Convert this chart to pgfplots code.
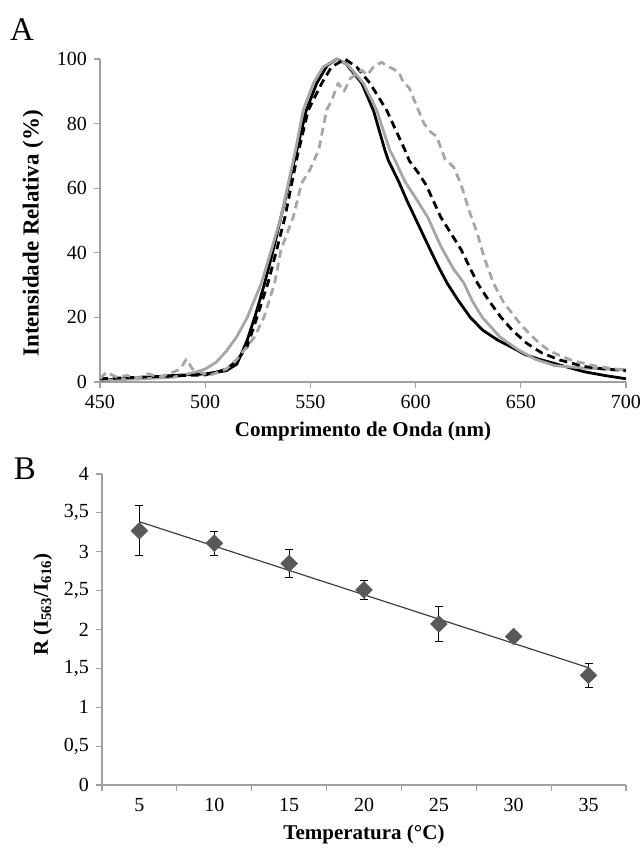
\documentclass[border=0pt]{standalone}
\usepackage{pgfplots}
\pgfplotsset{compat=1.18}
\usepackage{fontspec}
\setmainfont{Liberation Serif}

\definecolor{lgray}{HTML}{A6A6A6}
\definecolor{axgray}{HTML}{A0A0A0}
\definecolor{mgray}{HTML}{595959}

\pgfplotsset{
  myaxis/.style={
    scale only axis,
    axis lines=left,
    axis line style={axgray, line width=0.6pt, -},
    tick style={axgray, line width=0.6pt},
    tick align=outside,
    major tick length=3pt,
    tick label style={font=\fontsize{10}{11}\selectfont},
    label style={font=\fontsize{10.5}{12}\selectfont\bfseries},
    /pgf/number format/assume math mode=true,
    clip=false,
  },
  spec/.style={line width=1.4pt, line join=round},
}

\begin{document}
\begin{tikzpicture}
\useasboundingbox (-50pt,191pt) rectangle (270.5pt,-234pt);

% A: emission spectra
\begin{axis}[myaxis,
    at={(0pt,0pt)}, anchor=south west,
    width=263pt, height=161.5pt,
    xmin=450, xmax=700, ymin=0, ymax=100,
    xtick={450,500,...,700}, ytick={0,20,...,100},
    xlabel={Comprimento de Onda (nm)},
    ylabel={Intensidade Relativa (\%)},
    ylabel style={font=\fontsize{11.5}{13}\selectfont\bfseries,
                  at={(axis description cs:-0.127,0.46)}, anchor=center},
]
% black solid
\addplot[spec, black] coordinates {
 (450,0.5) (460,1.0) (470,1.3) (480,1.8) (490,2.2) (500,2.5) (505,3) (510,3.5)
 (515,5.5) (518,9.9) (520,13) (524,21) (528,30) (532,40) (536,51) (540,62)
 (544,73) (548,84) (553,92.5) (558,98) (562.5,100) (567,98.5) (574.4,92.5)
 (580,84) (585.4,71.8) (587,68.7) (592,62) (596,56) (600,50.5) (604,45)
 (608,39.5) (611,35.5) (615,30.6) (620,25.5) (626,20) (632,16) (639,13)
 (645,11) (652,8.5) (659,7) (670,5) (680,3.2) (690,2) (700,1)
};
% gray solid
\addplot[spec, lgray] coordinates {
 (450,0.5) (470,1) (485,1.5) (495,3) (500,4) (505,6) (510,9.5) (515,14)
 (520,20) (526.7,30.6) (531.5,41) (536,51) (540,63) (543,72) (546.6,84.2)
 (551.4,92.5) (556,97.5) (562.5,100) (568,98) (575.2,92.5) (581.5,84.2)
 (587.7,71.8) (590.2,68.7) (595,62) (600,57) (605.8,51) (612,42) (618,35)
 (623,30.6) (627,25) (631.7,20) (640,14) (648.9,9.9) (657,7) (666,5.1)
 (680,4.3) (690,4) (700,3.8)
};
% black dashed
\addplot[spec, black, dash pattern=on 4pt off 2.5pt] coordinates {
 (450,1) (470,1.5) (490,2) (500,2.2) (505,3) (510,4) (515,6.5) (520,11)
 (524.6,20) (530,31) (534,41) (537.9,51) (541,61) (543.8,70) (549,84.2)
 (555.4,92.5) (560,97.5) (566.4,100) (572,97.5) (578.3,92.5) (586.2,84.2)
 (594.8,72) (597,68.5) (601,65) (605,61) (608.5,56) (612,51) (621.7,40.9)
 (629.4,30.6) (635,25) (640.4,20.2) (646,16) (653,11.9) (660,9) (668.6,6.8)
 (680,4.8) (690,4) (700,3.5)
};
% gray dashed
\addplot[spec, lgray, dash pattern=on 4pt off 2.5pt] coordinates {
 (450,1) (453,3) (458,1.5) (463,2) (468,1) (473,2.5) (478,1.5) (483,2.5)
 (488,4) (491,7) (494,4) (498,3) (502,2) (506,3) (510,4) (515,7) (520,11)
 (523.5,14) (528,20.2) (533,30.6) (536,40.9) (541.9,51.2) (545.8,61.5)
 (550,66) (554,72) (557.7,84.2) (560,87) (563.2,92.5) (566,90) (569,94)
 (574.3,96.6) (577,95) (580,97.6) (583.9,99) (586,98) (589,97) (592,96)
 (594,93) (597,91) (601.3,84.2) (604,80) (607,77.5) (610,76) (614,69)
 (618,66.6) (621.4,61.5) (626,52) (629.4,45.9) (632.5,38.7) (637,30.6)
 (642,24.4) (645,22) (649.5,18.2) (654,15) (659,11.9) (664,9.5) (670,7.8)
 (675,6.5) (680,5.8) (685,5) (690,4.5) (695,4) (700,3.8)
};
\node[font=\fontsize{16.5}{18}\selectfont] at (axis description cs:-0.148,1.09) {A};
\end{axis}

% B: ratio vs temperature
\begin{axis}[myaxis,
    at={(1pt,-201.5pt)}, anchor=south west,
    width=262pt, height=155.5pt,
    xmin=2.5, xmax=37.5, ymin=0, ymax=4,
    xtick={5,10,...,35},
    minor xtick={2.5,7.5,...,37.5},
    major x tick style={draw=none},
    minor tick length=3pt,
    ytick={0,0.5,...,4},
    yticklabel style={/pgf/number format/.cd, use comma, fixed, precision=1},
    xlabel={Temperatura (°C)},
    ylabel={R (I\textsubscript{563}/I\textsubscript{616})},
    ylabel style={at={(axis description cs:-0.113,0.58)}, anchor=center},
]
\addplot[black!75, line width=0.6pt] coordinates {(5,3.386) (35,1.508)};
\addplot[only marks, mark=square*, mark size=2.9pt,
    mark options={rotate=45, fill=mgray, draw=mgray},
    error bars/.cd, y dir=both, y explicit,
    error bar style={black, line width=0.5pt},
    error mark options={rotate=90, mark size=2pt, black, line width=0.5pt}]
 coordinates {
 (5,3.27) +- (0,0.32)
 (10,3.11) +- (0,0.155)
 (15,2.85) +- (0,0.185)
 (20,2.51) +- (0,0.125)
 (25,2.07) +- (0,0.225)
 (30,1.91) +- (0,0.05)
 (35,1.41) +- (0,0.15)
};
\node[font=\fontsize{16.5}{18}\selectfont] at (axis description cs:-0.147,1.016) {B};
\end{axis}
\end{tikzpicture}
\end{document}
